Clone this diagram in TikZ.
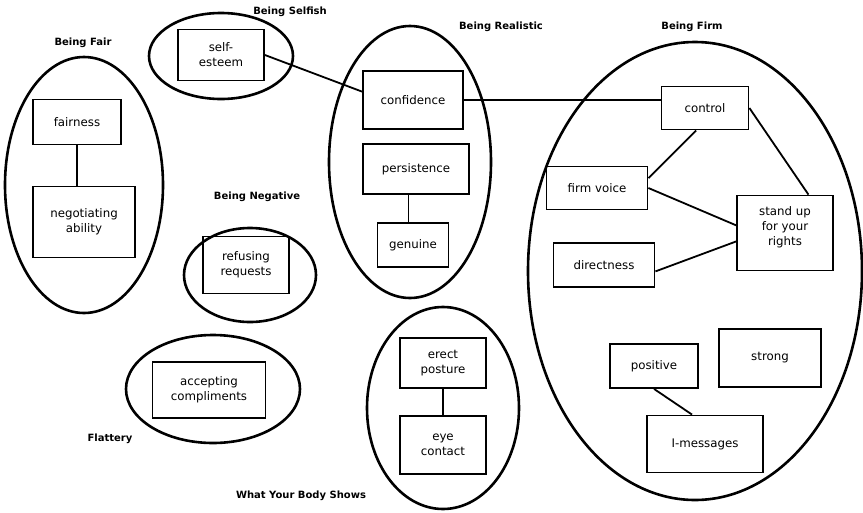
\documentclass[tikz,border=0pt]{standalone}
\usepackage{fontspec}
\setmainfont{DejaVu Sans}
\usetikzlibrary{calc,shapes.geometric}
\begin{document}
\begin{tikzpicture}[x=1pt,y=-1pt,
  box/.style={draw,line width=1.8pt,inner sep=2pt,align=center,
    font=\fontsize{11.8}{15}\selectfont},
  oval/.style={draw,ellipse,line width=2.6pt,inner sep=0pt},
  link/.style={line width=1.8pt},
  title/.style={font=\bfseries\fontsize{10}{12}\selectfont}]
\useasboundingbox[fill=white] (0,0) rectangle (863,512);

% group outlines
\node[oval,minimum width=158,minimum height=256] (gFair) at (84,185) {};
\node[oval,minimum width=144,minimum height=86]  (gSelf) at (221,56) {};
\node[oval,minimum width=162,minimum height=272] (gReal) at (410,162) {};
\node[oval,minimum width=334,minimum height=458] (gFirm) at (695,271) {};
\node[oval,minimum width=132,minimum height=94]  (gNeg)  at (250,275) {};
\node[oval,minimum width=174,minimum height=108] (gFlat) at (213,389) {};
\node[oval,minimum width=152,minimum height=202] (gBody) at (443,408) {};

% group titles
\node[title] (tFair) at (83,43)  {Being Fair};
\node[title] (tSelf) at (290,12) {Being Selfish};
\node[title] (tReal) at (501,27) {Being Realistic};
\node[title] (tFirm) at (692,27) {Being Firm};
\node[title] (tNeg)  at (257,197) {Being Negative};
\node[title] (tFlat) at (110,439) {Flattery};
\node[title] (tBody) at (301,496) {What Your Body Shows};

% boxes
\node[box,minimum width=88,minimum height=45]  (fair) at (77,122)  {fairness};
\node[box,minimum width=102,minimum height=71] (nego) at (84,222)  {negotiating\\ability};
\node[box,minimum width=86,minimum height=51]  (se)   at (221,55)  {self-\\esteem};
\node[box,minimum width=100,minimum height=58] (conf) at (413,100) {confidence};
\node[box,minimum width=106,minimum height=50] (pers) at (416,169) {persistence};
\node[box,minimum width=71,minimum height=44]  (gen)  at (413,245) {genuine};
\node[box,minimum width=86,minimum height=57]  (refu) at (246,265) {refusing\\requests};
\node[box,minimum width=113,minimum height=56] (acc)  at (209,390) {accepting\\compliments};
\node[box,minimum width=86,minimum height=50]  (ep)   at (443,363) {erect\\posture};
\node[box,minimum width=86,minimum height=58]  (ec)   at (443,445) {eye\\contact};
\node[box,minimum width=87,minimum height=43]  (ctrl) at (705,108) {control};
\node[box,minimum width=101,minimum height=43] (fv)   at (597,188) {firm voice};
\node[box,minimum width=101,minimum height=44] (dir)  at (604,265) {directness};
\node[box,minimum width=96,minimum height=75,text depth=14pt] (su) at (785,233) {stand up\\for your\\rights};
\node[box,minimum width=102,minimum height=58] (str)  at (770,358) {strong};
\node[box,minimum width=88,minimum height=44]  (pos)  at (654,366) {positive};
\node[box,minimum width=116,minimum height=57] (imsg) at (705,444) {I-messages};

% connectors
\draw[link] (fair.south) -- (fair.south |- nego.north);
\draw[link] (se.east) -- ($(conf.north west)!0.36!(conf.south west)$);
\draw[link] (conf.east) -- (conf.east -| ctrl.west);
\coordinate (persB) at ($(pers.south west)!0.43!(pers.south east)$);
\draw[link] (persB) -- (persB |- gen.north);
\draw[link] (ep.south) -- (ec.north);
\draw[link] ($(ctrl.south west)!0.4!(ctrl.south east)$) -- ($(fv.north east)!0.28!(fv.south east)$);
\draw[link] (ctrl.east) -- ($(su.north west)!0.74!(su.north east)$);
\draw[link] (fv.east) -- ($(su.north west)!0.4!(su.south west)$);
\draw[link] ($(dir.north east)!0.64!(dir.south east)$) -- ($(su.north west)!0.61!(su.south west)$);
\draw[link] (pos.south) -- ($(imsg.north west)!0.39!(imsg.north east)$);
\end{tikzpicture}
\end{document}
